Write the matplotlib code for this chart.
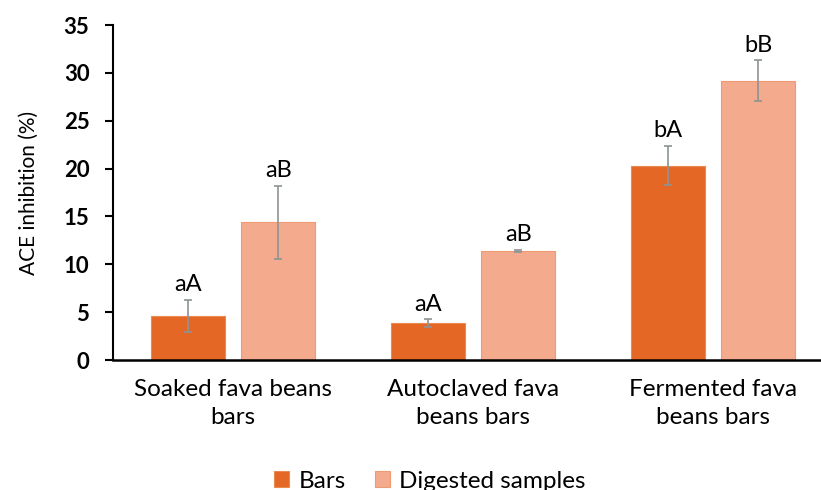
import numpy as np
import matplotlib.pyplot as plt

categories = ["Soaked fava beans\nbars", "Autoclaved fava\nbeans bars", "Fermented fava\nbeans bars"]
bars_vals = [4.6, 3.85, 20.3]
bars_err = [1.7, 0.4, 2.05]
dig_vals = [14.4, 11.4, 29.2]
dig_err = [3.8, 0.1, 2.1]
bars_letters = ["aA", "aA", "bA"]
dig_letters = ["aB", "aB", "bB"]

plt.rcParams['font.family'] = ['Lato', 'DejaVu Sans']

fig = plt.figure(figsize=(8.21, 4.9), dpi=100)
ax = fig.add_axes([113 / 821, 1 - 360 / 490, 720 / 821, 335 / 490])

x = np.arange(len(categories))
w = 0.31
off = (w + 0.067) / 2

ax.bar(x - off, bars_vals, w, color="#E46726", edgecolor="#EA8A4E", linewidth=0.8, label="Bars")
ax.bar(x + off, dig_vals, w, color="#F4AA8D", edgecolor="#EE9A72", linewidth=0.8, label="Digested samples")
ax.errorbar(x - off, bars_vals, yerr=bars_err, fmt="none", ecolor="#8C9496", capsize=3, elinewidth=1.2, capthick=1.2)
ax.errorbar(x + off, dig_vals, yerr=dig_err, fmt="none", ecolor="#8C9496", capsize=3, elinewidth=1.2, capthick=1.2)

for xi, v, e, t in zip(x - off, bars_vals, bars_err, bars_letters):
    ax.text(xi, v + e + 0.5, t, ha="center", va="bottom", fontsize=17)
for xi, v, e, t in zip(x + off, dig_vals, dig_err, dig_letters):
    ax.text(xi, v + e + 0.5, t, ha="center", va="bottom", fontsize=17)

ax.set_xlim(-0.5, 2.5)
ax.set_ylim(0, 35)
ax.set_yticks(range(0, 36, 5))
ax.set_xticks(x)
ax.set_xticklabels(categories, fontsize=17.5, linespacing=1.4)
ax.tick_params(axis="x", length=0, pad=14)
ax.tick_params(axis="y", length=6, width=1.5, direction="out", labelsize=16, pad=11)
for lbl in ax.get_yticklabels():
    lbl.set_fontweight("bold")
ax.set_ylabel("ACE inhibition (%)", fontsize=15, labelpad=18)

ax.spines["top"].set_visible(False)
ax.spines["right"].set_visible(False)
ax.spines["left"].set_linewidth(1.5)
ax.spines["bottom"].set_linewidth(1.8)

fig.legend(loc="center", bbox_to_anchor=(430 / 821, 1 - 481 / 490), ncol=2, frameon=False,
           fontsize=17.5, handlelength=0.6, handleheight=0.6, handletextpad=0.4, columnspacing=1.2)

fig.savefig("out.png", dpi=100)
